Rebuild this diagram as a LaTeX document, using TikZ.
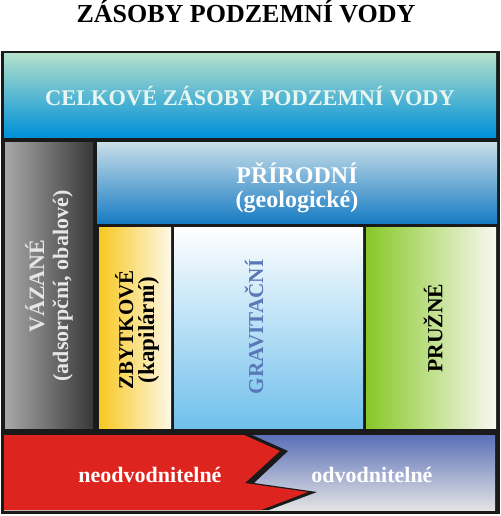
\documentclass[tikz,border=0pt]{standalone}
\usepackage{fontspec}
\setmainfont{Liberation Serif}
\definecolor{frame}{RGB}{26,26,26}
\definecolor{topA}{RGB}{178,224,204}
\definecolor{topB}{RGB}{64,176,224}
\definecolor{topC}{RGB}{0,144,216}
\definecolor{celk}{RGB}{232,246,242}
\definecolor{grayA}{RGB}{168,168,168}
\definecolor{grayB}{RGB}{56,56,56}
\definecolor{vaz}{RGB}{230,230,230}
\definecolor{prA}{RGB}{200,222,232}
\definecolor{prB}{RGB}{76,156,212}
\definecolor{prC}{RGB}{24,124,196}
\definecolor{yelA}{RGB}{248,200,32}
\definecolor{yelB}{RGB}{253,248,232}
\definecolor{grvB}{RGB}{112,192,236}
\definecolor{grvT}{RGB}{90,120,184}
\definecolor{grnA}{RGB}{136,200,40}
\definecolor{grnB}{RGB}{248,248,240}
\definecolor{botA}{RGB}{90,112,184}
\definecolor{botB}{RGB}{228,228,228}
\definecolor{redF}{RGB}{222,36,30}
\begin{document}
\begin{tikzpicture}[x=1pt,y=-1pt,
  lbl/.style 2 args={inner sep=0pt,font=\bfseries\fontsize{#1}{#2}\selectfont,align=center},
  one/.style={lbl={#1}{#1}}]
\useasboundingbox (0,0) rectangle (500,516);
% title
\node[one=26,text=black,anchor=base] (title) at (246,23) {ZÁSOBY PODZEMNÍ VODY};
% frame
\fill[frame] (1,51) rectangle (500,514);
% top box
\shade[top color=topA, middle color=topB, bottom color=topC] (4,54) rectangle (496,137);
\node[one=22.4,text=celk,anchor=base] (celk) at (250,106) {CELKOVÉ ZÁSOBY PODZEMNÍ VODY};
% gray column
\shade[left color=grayA, right color=grayB] (5,142) rectangle (93,428);
\node[lbl={22}{24},text=vaz,rotate=90] (vaz) at (49,286) {VÁZANÉ\\(adsorpční, obalové)};
% prirodni
\shade[top color=prA, middle color=prB, bottom color=prC] (97,142) rectangle (497,223);
\node[lbl={24}{24},text=white,anchor=base] (prir) at (297,207) {PŘÍRODNÍ\\(geologické)};
% zbytkove
\shade[left color=yelA, right color=yelB] (99,227) rectangle (171,428);
\node[lbl={21}{21},text=black,rotate=90] (zbyt) at (137,330) {ZBYTKOVÉ\\{\fontsize{23}{21}\selectfont(kapilární)}};
% gravitacni
\shade[top color=white, bottom color=grvB] (174,227) rectangle (363,428);
\node[one=21.2,text=grvT,rotate=90] (grav) at (254,327) {GRAVITAČNÍ};
% pruzne
\shade[left color=grnA, right color=grnB] (366,227) rectangle (496,428);
\node[one=21.6,text=black,rotate=90] (pruz) at (433,328) {PRUŽNÉ};
% bottom
\shade[top color=botA, bottom color=botB] (4,435) rectangle (495,510);
\fill[frame] (4,435) -- (252,435) -- (288,451) -- (254,483) -- (317,492) -- (269,510) -- (4,510) -- cycle;
\fill[redF] (4,435) -- (244,435) -- (280,451) -- (245,483) -- (308,492) -- (261,510) -- (4,510) -- cycle;
\node[one=22,text=white,anchor=base] (neod) at (150,482) {neodvodnitelné};
\node[one=22,text=white,anchor=base] (odv) at (372,482) {odvodnitelné};
\end{tikzpicture}
\end{document}
